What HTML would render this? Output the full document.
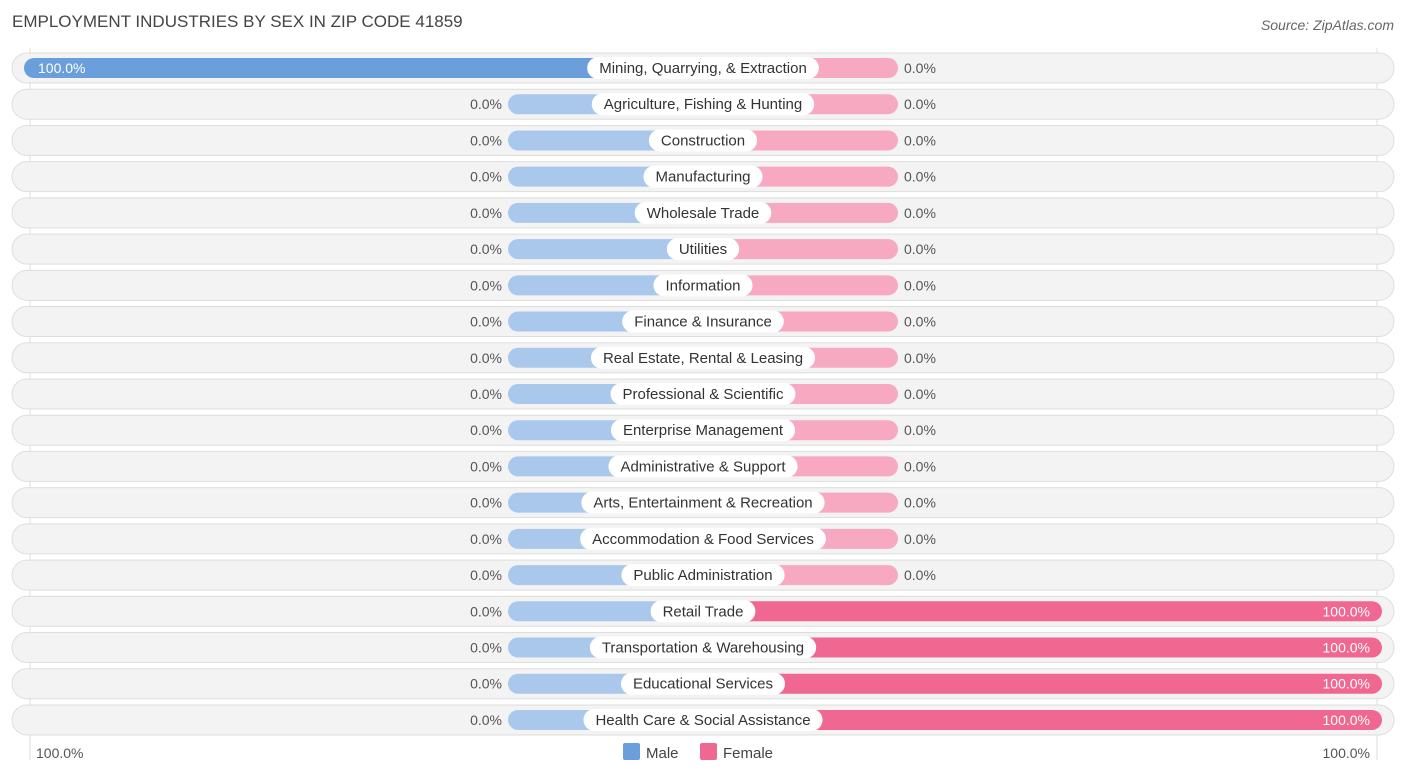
<!DOCTYPE html>
<html><head><meta charset="utf-8"><style>
body{margin:0;background:#fff;font-family:"Liberation Sans",sans-serif;}
svg text{font-family:"Liberation Sans",sans-serif;}
</style></head><body>
<svg width="1406" height="776" id="c">
<text x="12" y="27" font-size="17" fill="#444">EMPLOYMENT INDUSTRIES BY SEX IN ZIP CODE 41859</text>
<text x="1394" y="30" font-size="14" fill="#666" font-style="italic" text-anchor="end">Source: ZipAtlas.com</text>
<line x1="30" y1="48" x2="30" y2="760" stroke="#ddd"/>
<line x1="1377" y1="48" x2="1377" y2="760" stroke="#ddd"/>
<g id="rows"></g>
<text x="36" y="758" font-size="14" fill="#555">100.0%</text>
<text x="1370" y="758" font-size="14" fill="#555" text-anchor="end">100.0%</text>
<rect x="623" y="743" width="17" height="17" rx="2" fill="#6a9fdc"/>
<text x="646" y="758" font-size="15" fill="#444">Male</text>
<rect x="700" y="743" width="17" height="17" rx="2" fill="#f06892"/>
<text x="723" y="758" font-size="15" fill="#444">Female</text>
</svg>
<script>
const categories=["Mining, Quarrying, & Extraction","Agriculture, Fishing & Hunting","Construction","Manufacturing","Wholesale Trade","Utilities","Information","Finance & Insurance","Real Estate, Rental & Leasing","Professional & Scientific","Enterprise Management","Administrative & Support","Arts, Entertainment & Recreation","Accommodation & Food Services","Public Administration","Retail Trade","Transportation & Warehousing","Educational Services","Health Care & Social Assistance"];
const maleValues=[100,0,0,0,0,0,0,0,0,0,0,0,0,0,0,0,0,0,0];
const femaleValues=[0,0,0,0,0,0,0,0,0,0,0,0,0,0,0,100,100,100,100];
const NS="http://www.w3.org/2000/svg";
const g=document.getElementById('rows');
const cx=703, scale=679/100, stub=195;
function y(i){return 68+i*36.22;}
function mk(t,a){const e=document.createElementNS(NS,t);for(const k in a)e.setAttribute(k,a[k]);return e;}
categories.forEach((c,i)=>{
 const yc=y(i);
 const bg=mk('rect',{x:12,y:yc-15,width:1382,height:30,rx:15,fill:'#f3f3f3',stroke:'#dedede'});
 
 
 g.appendChild(bg);
 const mv=maleValues[i], fv=femaleValues[i];
 const mw=mv>0?mv*scale:stub, fw=fv>0?fv*scale:stub;
 const mb=mk('rect',{x:cx-mw,y:yc-10,width:mw,height:20,rx:10,fill:mv>0?'#6a9fdc':'#aac8ec'});
 
 
 g.appendChild(mb);
 const fb=mk('rect',{x:cx,y:yc-10,width:fw,height:20,rx:10,fill:fv>0?'#f06892':'#f7a9c1'});
 
 
 g.appendChild(fb);
 const lbl=mk('text',{x:cx,y:yc+5,'font-size':15,fill:'#333','text-anchor':'middle'});
 lbl.textContent=c;
 g.appendChild(lbl);
 const w=lbl.getComputedTextLength()+24;
 const pill=mk('rect',{x:cx-w/2,y:yc-11,width:w,height:22,rx:11,fill:'#fff'});
 
 
 g.insertBefore(pill,lbl);
 
 
 const ml=mk('text',{'font-size':14,y:yc+5});
 if(mv>0){ml.setAttribute('x',cx-mw+14);ml.setAttribute('fill','#fff');}
 else{ml.setAttribute('x',cx-mw-6);ml.setAttribute('text-anchor','end');ml.setAttribute('fill','#555');}
 ml.textContent=mv.toFixed(1)+'%';
 
 
 g.appendChild(ml);
 const fl=mk('text',{'font-size':14,y:yc+5});
 if(fv>0){fl.setAttribute('x',cx+fw-12);fl.setAttribute('text-anchor','end');fl.setAttribute('fill','#fff');}
 else{fl.setAttribute('x',cx+fw+6);fl.setAttribute('fill','#555');}
 fl.textContent=fv.toFixed(1)+'%';
 
 
 g.appendChild(fl);
});
</script>
</body></html>
